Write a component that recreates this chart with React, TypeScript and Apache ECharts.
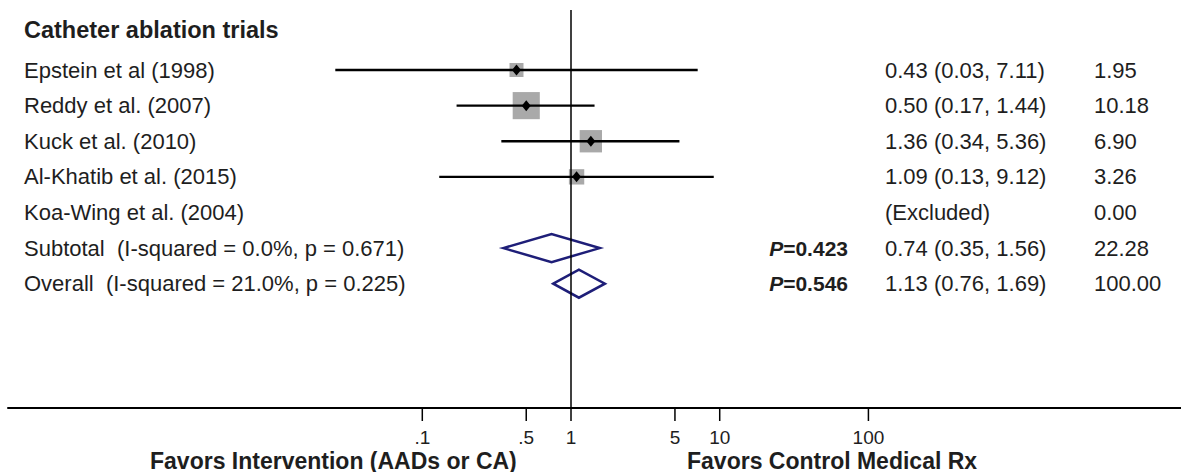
import React, { useEffect, useRef } from "react";
import * as echarts from "echarts";

// ---------- data ----------
const sectionTitle = "Catheter ablation trials";

const studyLabels = [
  "Epstein et al (1998)",
  "Reddy et al. (2007)",
  "Kuck et al. (2010)",
  "Al-Khatib et al. (2015)",
  "Koa-Wing et al. (2004)",
];
const studyRows = [1, 2, 3, 4, 5];
const studyEst: (number | null)[] = [0.43, 0.5, 1.36, 1.09, null];
const studyLow: (number | null)[] = [0.026, 0.17, 0.34, 0.13, null];
const studyHigh: (number | null)[] = [7.11, 1.44, 5.36, 9.12, null];
const studyWeight = [1.95, 10.18, 6.9, 3.26, 0.0];
const studyEsText = [
  "0.43 (0.03, 7.11)",
  "0.50 (0.17, 1.44)",
  "1.36 (0.34, 5.36)",
  "1.09 (0.13, 9.12)",
  "(Excluded)",
];
const studyWeightText = ["1.95", "10.18", "6.90", "3.26", "0.00"];

const pooledLabels = [
  "Subtotal  (I-squared = 0.0%, p = 0.671)",
  "Overall  (I-squared = 21.0%, p = 0.225)",
];
const pooledRows = [6, 7];
const pooledEst = [0.74, 1.13];
const pooledLow = [0.35, 0.76];
const pooledHigh = [1.56, 1.69];
const pooledP = ["0.423", "0.546"];
const pooledEsText = ["0.74 (0.35, 1.56)", "1.13 (0.76, 1.69)"];
const pooledWeightText = ["22.28", "100.00"];

const tickValues = [0.1, 0.5, 1, 5, 10, 100];
const tickLabels = [".1", ".5", "1", "5", "10", "100"];

const favorsLeft = "Favors Intervention (AADs or CA)";
const favorsRight = "Favors Control Medical Rx";

// ---------- layout ----------
const W = 1181;
const H = 472;
const FONT = '"Liberation Sans", Arial, Helvetica, sans-serif';
const X_MIN = Math.pow(10, -3.786);
const X_MAX = Math.pow(10, 4.102);
const Y_MIN = -0.685;
const Y_MAX = 10.49;
const TITLE_ROW = -0.12;
const TEXT_COLOR = "#1e1e1e";
const BODY_SIZE = 22;

export default function App() {
  const ref = useRef<HTMLDivElement>(null);

  useEffect(() => {
    if (!ref.current) return;
    const chart = echarts.init(ref.current, undefined, { renderer: "svg" });

    const studyData = studyRows
      .map((row, i) =>
        studyEst[i] == null
          ? null
          : [studyEst[i], row, studyLow[i], studyHigh[i], studyWeight[i]]
      )
      .filter((d) => d != null);

    const pooledData = pooledRows.map((row, i) => [
      pooledEst[i],
      row,
      pooledLow[i],
      pooledHigh[i],
    ]);

    type TextRow = {
      row: number;
      label: string;
      bold?: boolean;
      es?: string;
      w?: string;
      p?: string;
    };
    const textRows: TextRow[] = [
      { row: TITLE_ROW, label: sectionTitle, bold: true },
      ...studyRows.map((row, i) => ({
        row,
        label: studyLabels[i],
        es: studyEsText[i],
        w: studyWeightText[i],
      })),
      ...pooledRows.map((row, i) => ({
        row,
        label: pooledLabels[i],
        es: pooledEsText[i],
        w: pooledWeightText[i],
        p: pooledP[i],
      })),
    ];

    const txt = (
      x: number,
      y: number,
      text: string,
      align: string,
      size: number,
      bold = false
    ) => ({
      type: "text",
      x,
      y,
      style: {
        text,
        fill: TEXT_COLOR,
        fontSize: size,
        fontFamily: FONT,
        fontWeight: bold ? "bold" : "normal",
        align,
        verticalAlign: "middle",
      },
    });

    chart.setOption({
      animation: false,
      backgroundColor: "#fff",
      grid: { left: 8, right: 0, top: 10, bottom: H - 408 },
      xAxis: {
        type: "log",
        logBase: 10,
        min: X_MIN,
        max: X_MAX,
        axisLine: { show: true, onZero: false, lineStyle: { color: "#000", width: 2 } },
        axisTick: { show: false },
        axisLabel: { show: false },
        splitLine: { show: false },
      },
      yAxis: {
        type: "value",
        inverse: true,
        min: Y_MIN,
        max: Y_MAX,
        show: false,
        splitLine: { show: false },
      },
      graphic: [
        {
          type: "text",
          left: 150,
          top: 449,
          style: {
            text: favorsLeft,
            fill: TEXT_COLOR,
            font: `bold 23px ${FONT}`,
          },
        },
        {
          type: "text",
          left: 687,
          top: 449,
          style: {
            text: favorsRight,
            fill: TEXT_COLOR,
            font: `bold 23px ${FONT}`,
          },
        },
      ],
      series: [
        {
          type: "custom",
          name: "ticks",
          data: tickValues.map((v) => [v, Y_MAX]),
          encode: { x: 0, y: 1 },
          silent: true,
          z: 1,
          markLine: {
            silent: true,
            symbol: ["none", "none"],
            label: { show: false },
            lineStyle: { color: "#000", width: 1.5, type: "solid" },
            data: [{ xAxis: 1 }],
          },
          renderItem: (params: any, api: any) => {
            const c = api.coord([api.value(0), api.value(1)]);
            return {
              type: "group",
              children: [
                {
                  type: "line",
                  shape: { x1: c[0], y1: c[1], x2: c[0], y2: c[1] + 13 },
                  style: { stroke: "#000", lineWidth: 1.5 },
                },
                txt(c[0], c[1] + 29, tickLabels[params.dataIndex], "center", 19),
              ],
            };
          },
        },
        {
          type: "custom",
          name: "studies",
          data: studyData,
          encode: { x: 0, y: 1 },
          silent: true,
          z: 3,
          renderItem: (params: any, api: any) => {
            const row = api.value(1);
            const c = api.coord([api.value(0), row]);
            const l = api.coord([api.value(2), row]);
            const h = api.coord([api.value(3), row]);
            const s = Math.max(14, 8.5 * Math.sqrt(api.value(4)));
            return {
              type: "group",
              children: [
                {
                  type: "rect",
                  shape: { x: c[0] - s / 2, y: c[1] - s / 2, width: s, height: s },
                  style: { fill: "#a9a9a9" },
                },
                {
                  type: "line",
                  shape: { x1: l[0], y1: l[1], x2: h[0], y2: h[1] },
                  style: { stroke: "#000", lineWidth: 2.4 },
                },
                {
                  type: "polygon",
                  shape: {
                    points: [
                      [c[0] - 4.5, c[1]],
                      [c[0], c[1] - 5.5],
                      [c[0] + 4.5, c[1]],
                      [c[0], c[1] + 5.5],
                    ],
                  },
                  style: { fill: "#000" },
                },
              ],
            };
          },
        },
        {
          type: "custom",
          name: "pooled",
          data: pooledData,
          encode: { x: 0, y: 1 },
          silent: true,
          z: 3,
          renderItem: (params: any, api: any) => {
            const row = api.value(1);
            const c = api.coord([api.value(0), row]);
            const l = api.coord([api.value(2), row]);
            const h = api.coord([api.value(3), row]);
            const hh = 14;
            return {
              type: "polygon",
              shape: {
                points: [
                  [l[0], l[1]],
                  [c[0], c[1] - hh],
                  [h[0], h[1]],
                  [c[0], c[1] + hh],
                ],
              },
              style: { fill: "none", stroke: "#1e1e78", lineWidth: 2.5 },
            };
          },
        },
        {
          type: "custom",
          name: "text",
          data: textRows.map((r) => [1, r.row]),
          encode: { x: 0, y: 1 },
          silent: true,
          z: 4,
          renderItem: (params: any, api: any) => {
            const r = textRows[params.dataIndex];
            const c = api.coord([1, api.value(1)]);
            const y = c[1];
            const children: any[] = [
              txt(24, y, r.label, "left", r.bold ? 23.5 : BODY_SIZE, !!r.bold),
            ];
            if (r.es) children.push(txt(885, y, r.es, "left", BODY_SIZE));
            if (r.w) children.push(txt(1094, y, r.w, "left", BODY_SIZE));
            if (r.p)
              children.push({
                type: "text",
                x: 848,
                y,
                style: {
                  text: `{i|P}{n|=${r.p}}`,
                  align: "right",
                  verticalAlign: "middle",
                  rich: {
                    i: {
                      fontSize: 21,
                      fontFamily: FONT,
                      fontWeight: "bold",
                      fontStyle: "italic",
                      fill: TEXT_COLOR,
                    },
                    n: {
                      fontSize: 21,
                      fontFamily: FONT,
                      fontWeight: "bold",
                      fill: TEXT_COLOR,
                    },
                  },
                },
              });
            return { type: "group", children };
          },
        },
      ],
    });

    return () => chart.dispose();
  }, []);

  return (
    <div
      ref={ref}
      style={{ position: "fixed", left: 0, top: 0, width: W, height: H }}
    />
  );
}
